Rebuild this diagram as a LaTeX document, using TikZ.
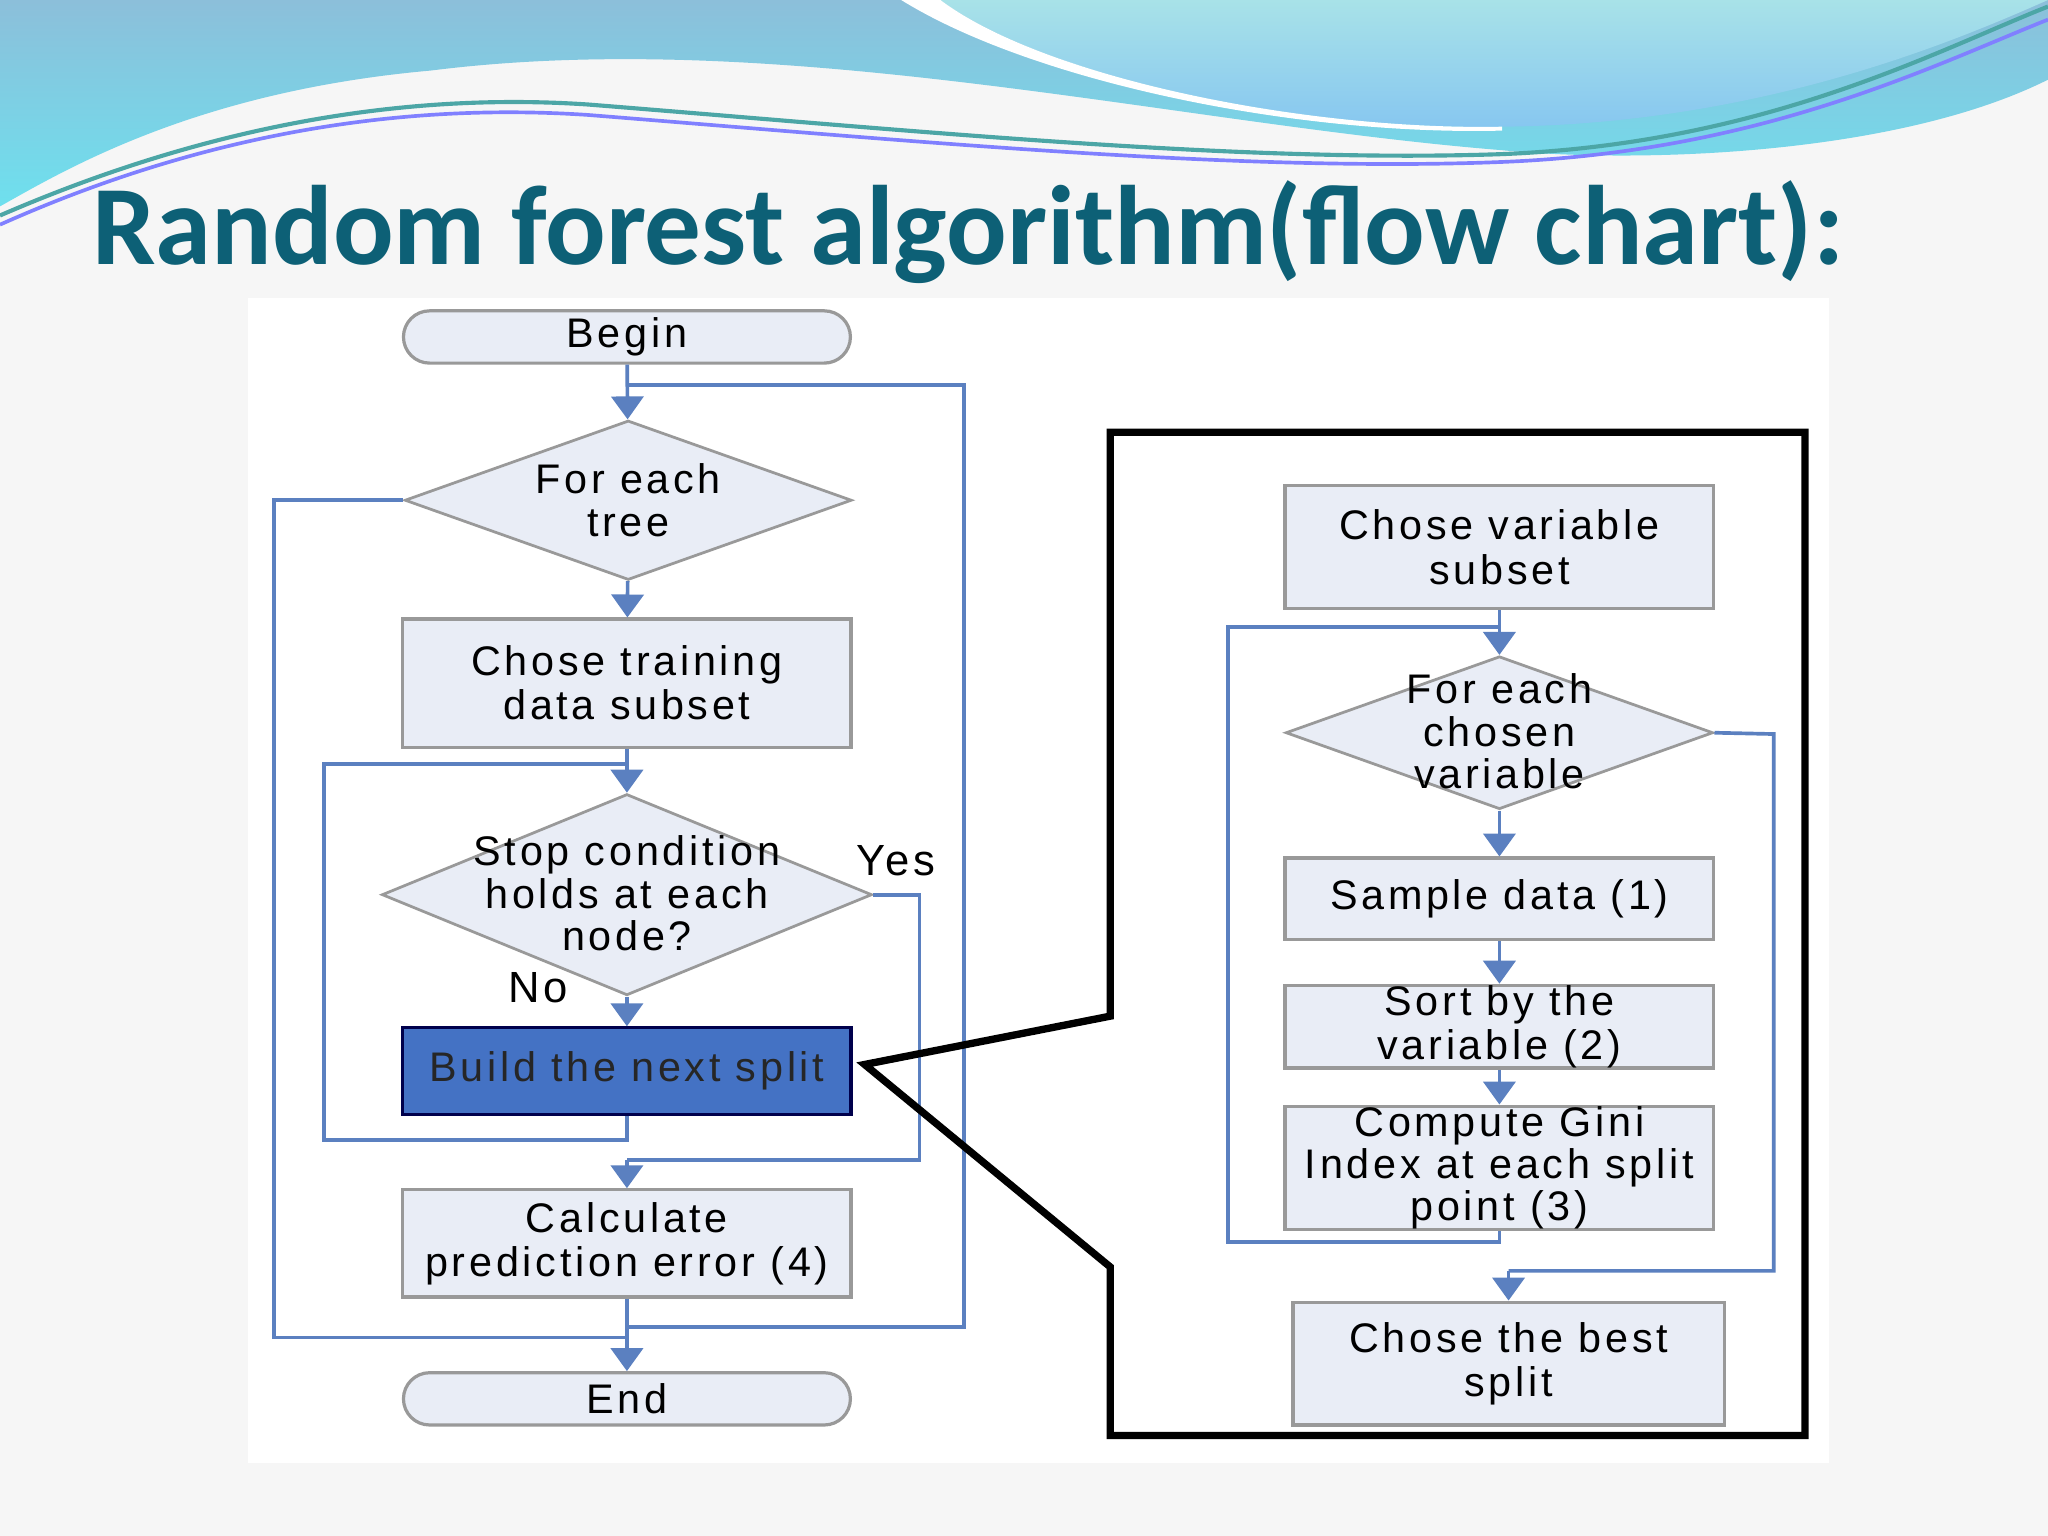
\documentclass[tikz,border=0pt]{standalone}
\usepackage{fontspec}
\setmainfont{Liberation Sans}[LetterSpace=9]
\newfontfamily\titlefont{Carlito}
\usetikzlibrary{shapes.geometric,arrows.meta}
\definecolor{ln}{HTML}{5B80C0}
\definecolor{bx}{HTML}{E9EDF6}
\definecolor{ttl}{HTML}{0D6076}
\definecolor{wa}{HTML}{8CBFDA}
\definecolor{wb}{HTML}{6EE0EE}
\definecolor{wc}{HTML}{A8E2E8}
\definecolor{wd}{HTML}{86C6F0}
\begin{document}
\begin{tikzpicture}[x=0.01cm,y=-0.01cm,
  box/.style={draw=gray!80,fill=bx,line width=0.7pt,minimum width=#1,align=center,inner sep=0pt,font=\fontsize{9}{9.6}\selectfont},
  dia/.style={draw=gray!80,fill=bx,diamond,inner sep=0pt,line width=0.6pt},
  txt/.style={align=center,font=\fontsize{9}{9.2}\selectfont},
  conn/.style={draw=ln,line width=0.8pt},
  arr/.style={conn,-{Triangle[width=7pt,length=5pt]}}]
\useasboundingbox (0,0) rectangle (1568,1176);
\fill[gray!7] (0,0) rectangle (1568,1176);
\fill[white] (190,228) rectangle (1400,1120);
% top decoration
\shade[top color=wa,bottom color=wb] (0,0) -- (1568,0) -- (1568,61) .. controls (1450,120) and (1250,125) .. (1150,115) .. controls (900,95) and (600,20) .. (330,54) .. controls (150,70) and (50,130) .. (0,158) -- cycle;
\shade[top color=wc,bottom color=wd] (720,0) .. controls (800,60) and (1000,100) .. (1150,97) .. controls (1350,95) and (1500,30) .. (1568,0) -- cycle;
\fill[white] (690,0) .. controls (790,62) and (990,104) .. (1150,100) -- (1150,97) .. controls (1000,100) and (800,60) .. (720,0) -- cycle;
\draw[teal!70,line width=0.9pt] (0,165) .. controls (150,100) and (300,70) .. (450,80) .. controls (700,100) and (950,125) .. (1150,118) .. controls (1350,110) and (1480,40) .. (1568,5);
\draw[blue!50,line width=0.8pt] (0,172) .. controls (150,105) and (300,78) .. (450,88) .. controls (700,108) and (950,132) .. (1150,124) .. controls (1350,116) and (1480,50) .. (1568,15);
\node[ttl,anchor=west,inner sep=0pt,font=\titlefont\bfseries\fontsize{24.6}{28}\selectfont] (title) at (70,178) {Random forest algorithm(flow chart):};
% left nodes
\node[box=3.42cm,rounded corners=0.2cm,minimum height=0.4cm] (begin) at (480,258) {Begin};
\node[dia,minimum width=3.42cm,minimum height=1.22cm] (d1) at (481,383) {};
\node[txt] at (d1) {For each\\tree};
\node[box=3.43cm,minimum height=0.98cm] (train) at (480,523) {Chose training\\data subset};
\node[dia,minimum width=3.75cm,minimum height=1.54cm] (d2) at (480,685) {};
\node[txt] at (480,684) {Stop condition\\holds at each\\node?};
\node[box=3.43cm,minimum height=0.66cm,draw=blue!30!black,text=black!85,fill={rgb,255:red,68;green,114;blue,196}] (build) at (480,820) {Build the next split};
\node[box=3.43cm,minimum height=0.82cm] (calc) at (480,952) {Calculate\\prediction error (4)};
\node[box=3.42cm,rounded corners=0.2cm,minimum height=0.4cm] (end) at (480,1071) {End};
\node[txt,font=\fontsize{9.5}{11}\selectfont] (yes) at (686,659) {Yes};
\node[txt,font=\fontsize{9.5}{11}\selectfont] (no) at (412,756) {No};
% left connectors
\draw[arr] (begin) -- (d1);
\draw[arr] (d1) -- (train);
\draw[arr] (train) -- (d2);
\draw[arr] (d2) -- (build);
\coordinate (j1) at (480,295);
\draw[conn] (calc.south) -- (480,1016) -- (738,1016) -- (738,295) -- (j1);
\draw[conn] (d1.west) -- (210,383) -- (210,1024) -- (480,1024);
\draw[arr] (480,1016) -- (end);
\draw[conn] (build.south) -- (480,873) -- (248,873) -- (248,585) -- (480,585);
\draw[conn] (d2.east) -- (704,685) -- (704,888) -- (480,888);
\draw[arr] (480,888) -- (calc);
% zoom frame
\draw[black,line width=1.6pt] (850,778) -- (850,331) -- (1382,331) -- (1382,1099) -- (850,1099) -- (850,970) -- (662,815) -- cycle;
% right nodes
\node[box=3.28cm,minimum height=0.94cm] (var) at (1148,419) {Chose variable\\subset};
\node[dia,minimum width=3.27cm,minimum height=1.17cm] (d3) at (1148,561) {};
\node[txt] at (1148,560) {For each\\chosen\\variable};
\node[box=3.28cm,minimum height=0.62cm] (samp) at (1148,688) {Sample data (1)};
\node[box=3.28cm,minimum height=0.63cm] (sort) at (1148,786) {Sort by the\\variable (2)};
\node[box=3.28cm,minimum height=0.79cm,font=\fontsize{9}{9.2}\selectfont] (gini) at (1148,894) {Compute Gini\\Index at each split\\point (3)};
\node[box=3.3cm,minimum height=0.94cm] (best) at (1155,1044) {Chose the best\\split};
% right connectors
\draw[arr] (var) -- (d3);
\draw[arr] (d3) -- (samp);
\draw[arr] (samp) -- (sort);
\draw[arr] (sort) -- (gini);
\draw[conn] (gini.south) -- (1148,951) -- (940,951) -- (940,480) -- (1148,480);
\draw[conn] (d3.east) -- (1358,562) -- (1358,973) -- (1155,973);
\draw[arr] (1155,973) -- (best);
\end{tikzpicture}
\end{document}
